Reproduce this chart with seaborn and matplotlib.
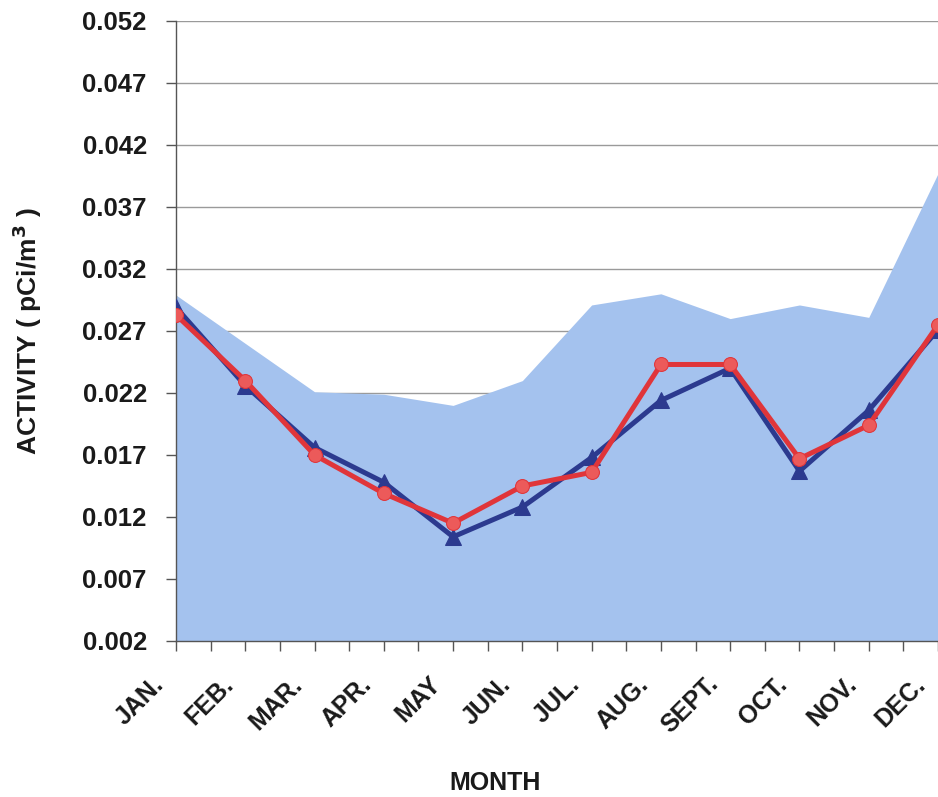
import numpy as np
import pandas as pd
import matplotlib
matplotlib.use("Agg")
import matplotlib.pyplot as plt
from matplotlib.transforms import ScaledTranslation
import seaborn as sns

months = ["JAN.", "FEB.", "MAR.", "APR.", "MAY", "JUN.", "JUL.", "AUG.",
          "SEPT.", "OCT.", "NOV.", "DEC."]
range_upper = [0.0299, 0.0260, 0.0221, 0.0219, 0.0210, 0.0230, 0.0291,
               0.0300, 0.0280, 0.0291, 0.0281, 0.0397]
series_blue = [0.0289, 0.0226, 0.0176, 0.0148, 0.0104, 0.0128, 0.0168,
               0.0214, 0.0240, 0.0157, 0.0206, 0.0271]
series_red = [0.0283, 0.0230, 0.0170, 0.0139, 0.0115, 0.0145, 0.0156,
              0.0243, 0.0243, 0.0167, 0.0194, 0.0275]
yticks = [0.002, 0.007, 0.012, 0.017, 0.022, 0.027, 0.032, 0.037, 0.042,
          0.047, 0.052]

sns.set_theme(style="white")
plt.rcParams["font.family"] = ["Liberation Sans", "DejaVu Sans"]
plt.rcParams["font.weight"] = "bold"

x = np.arange(len(months))
df = pd.DataFrame({"month": x, "upper": range_upper,
                   "blue": series_blue, "red": series_red})

fig = plt.figure(figsize=(9.38, 7.97), dpi=100)
ax = fig.add_axes([176 / 938, (797 - 641) / 797, (938 - 176) / 938, 620 / 797])

ax.fill_between(df["month"], 0.002, df["upper"], color="#a4c2ee",
                linewidth=0, zorder=1)
sns.lineplot(data=df, x="month", y="blue", ax=ax, color="#2c3a8f",
             linewidth=3.6, marker="^", markersize=11,
             markeredgecolor="#2c3a8f", zorder=3)
sns.lineplot(data=df, x="month", y="red", ax=ax, color="#e0353a",
             linewidth=3.6, marker="o", markersize=10,
             markerfacecolor="#ec5a5a", markeredgecolor="#e0353a", zorder=4)

ax.set_xlim(0, len(months) - 1)
ax.set_ylim(0.002, 0.052)
ax.set_yticks(yticks)
ax.set_yticklabels([f"{v:.3f}" for v in yticks])
ax.set_xticks(x)
ax.set_xticks(np.arange(0.5, len(months) - 1, 1.0), minor=True)
ax.set_xticklabels(months, rotation=45, ha="right", va="baseline",
                   rotation_mode="anchor")

ax.grid(axis="y", color="#9a9a9a", linewidth=1.0, zorder=0)
ax.set_axisbelow(True)
for side in ["top", "right"]:
    ax.spines[side].set_visible(False)
for side in ["left", "bottom"]:
    ax.spines[side].set_color("#555555")
    ax.spines[side].set_linewidth(1.0)

ax.tick_params(axis="y", which="major", direction="out", length=7, width=1,
               color="#555555", pad=14, labelsize=18.5, left=True)
ax.tick_params(axis="x", which="both", direction="out", length=7, width=1,
               color="#555555", bottom=True)
ax.tick_params(axis="x", which="major", pad=25, labelsize=18)
shift = ScaledTranslation(-11 / 100, 0, fig.dpi_scale_trans)
for lab in ax.get_xticklabels():
    lab.set_transform(lab.get_transform() + shift)
for lab in ax.get_xticklabels() + ax.get_yticklabels():
    lab.set_fontweight("bold")
    lab.set_color("#1a1a1a")

ax.set_xlabel("MONTH", fontsize=18, fontweight="bold", color="#1a1a1a")
ax.xaxis.set_label_coords((495 - 176) / 762, -(771 - 641) / 620)
ax.set_ylabel("ACTIVITY ( pCi/m$^{\\mathbf{3}}$ )", fontsize=19,
              fontweight="bold", color="#1a1a1a")
ax.yaxis.set_label_coords(-(176 - 44) / 762, 0.5)

fig.savefig("out.png", dpi=100)
